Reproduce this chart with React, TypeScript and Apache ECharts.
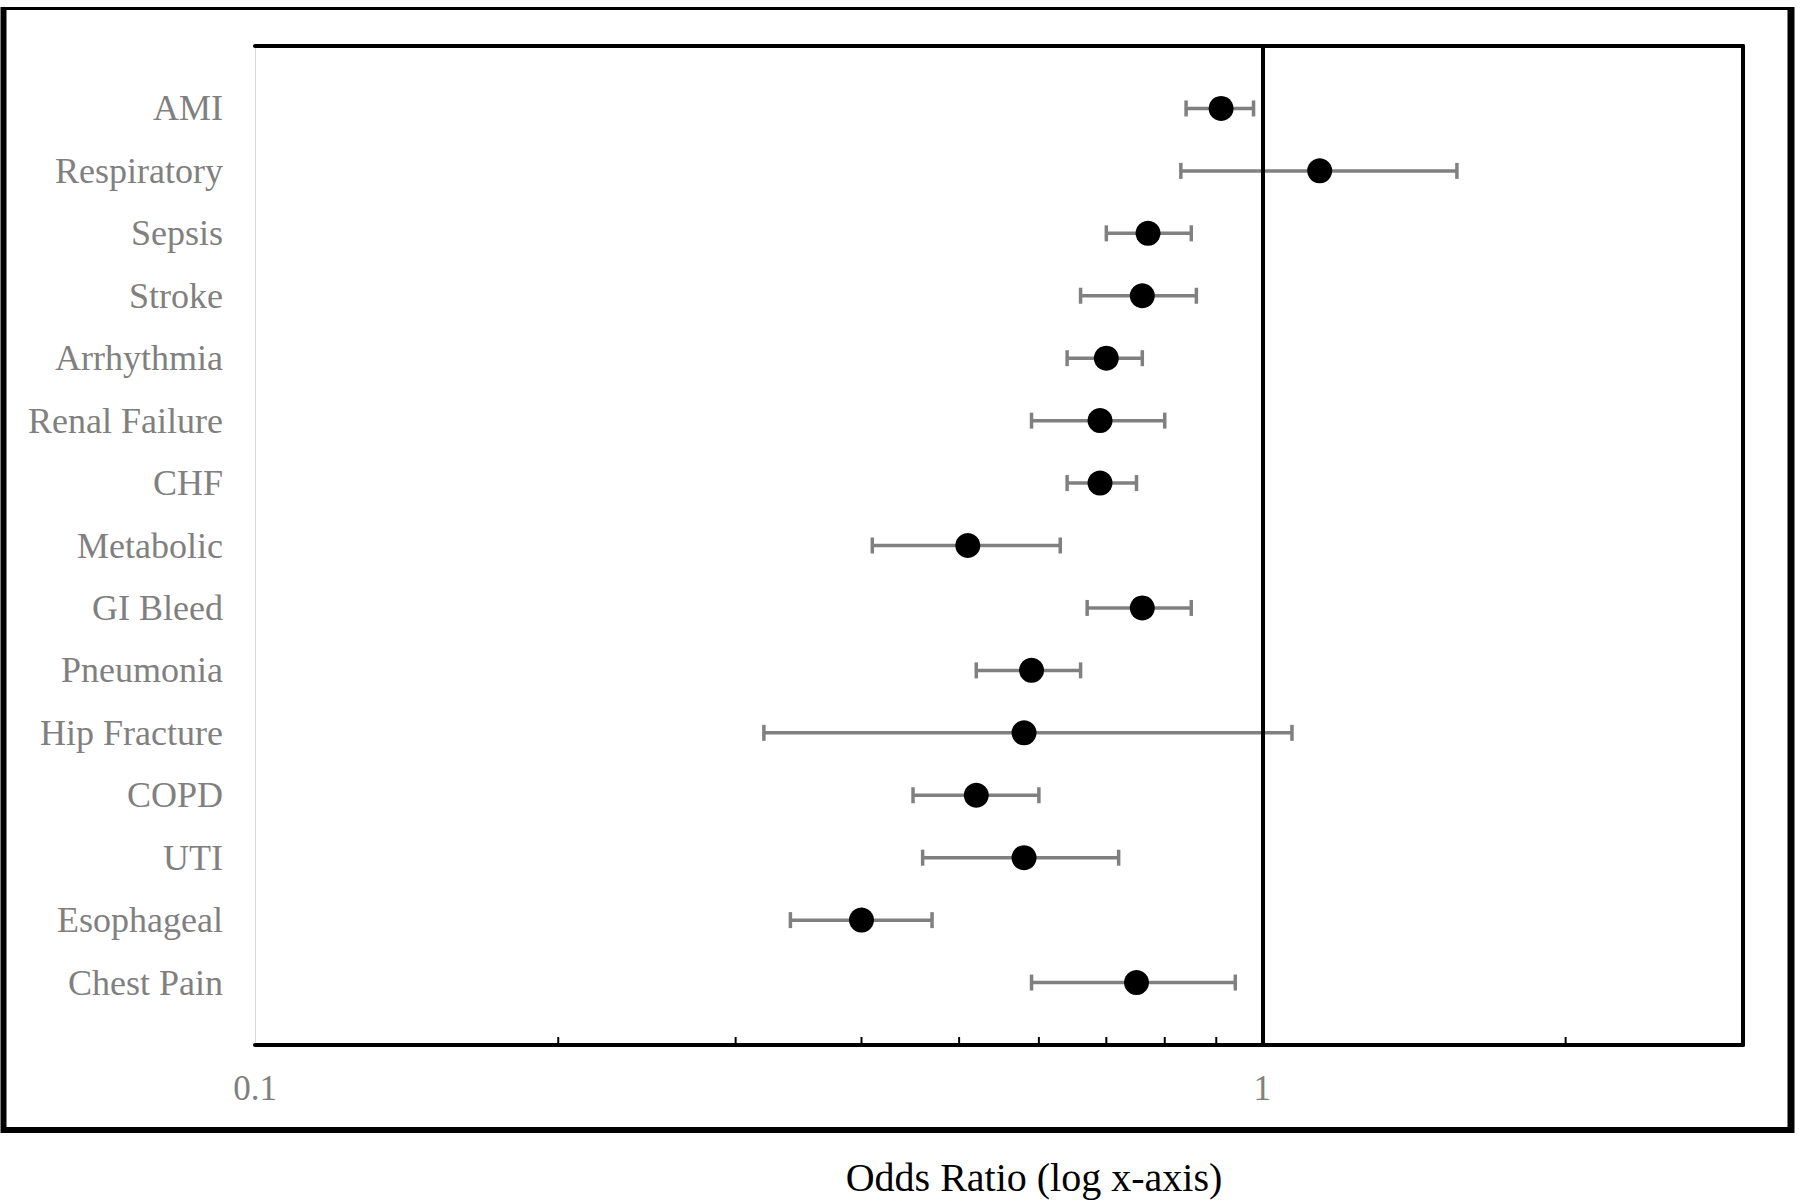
import React, { useEffect, useRef } from "react";
import * as echarts from "echarts";

const categories = [
  "AMI",
  "Respiratory",
  "Sepsis",
  "Stroke",
  "Arrhythmia",
  "Renal Failure",
  "CHF",
  "Metabolic",
  "GI Bleed",
  "Pneumonia",
  "Hip Fracture",
  "COPD",
  "UTI",
  "Esophageal",
  "Chest Pain",
];
const oddsRatio = [0.91, 1.14, 0.77, 0.76, 0.7, 0.69, 0.69, 0.51, 0.76, 0.59, 0.58, 0.52, 0.58, 0.4, 0.75];
const ciLower = [0.84, 0.83, 0.7, 0.66, 0.64, 0.59, 0.64, 0.41, 0.67, 0.52, 0.32, 0.45, 0.46, 0.34, 0.59];
const ciUpper = [0.98, 1.56, 0.85, 0.86, 0.76, 0.8, 0.75, 0.63, 0.85, 0.66, 1.07, 0.6, 0.72, 0.47, 0.94];
const xTickLabels = [0.1, 1];
const minorTicks = [0.2, 0.3, 0.4, 0.5, 0.6, 0.7, 0.8, 0.9, 2];
const referenceValue = 1;
const xMin = 0.1;
const xMax = 3;
const axisTitle = "Odds Ratio (log x-axis)";

const FONT = '"Liberation Serif", "Times New Roman", serif';
const GRAY = "#808080";

export default function App() {
  const ref = useRef<HTMLDivElement>(null);

  useEffect(() => {
    if (!ref.current) return;
    const chart = echarts.init(ref.current, undefined, { renderer: "svg" });
    const yMax = categories.length + 1;

    const option: any = {
      animation: false,
      backgroundColor: "#ffffff",
      grid: {
        left: 255,
        right: 57,
        top: 46,
        bottom: 157,
        containLabel: false,
        outerBoundsMode: "none",
      },
      xAxis: [
        {
          type: "log",
          logBase: 10,
          min: xMin,
          max: xMax,
          position: "bottom",
          axisLine: { show: true, onZero: false, lineStyle: { color: "#000", width: 4 } },
          axisTick: { show: false },
          splitLine: { show: false },
          minorTick: { show: false },
          minorSplitLine: { show: false },
          axisLabel: {
            color: GRAY,
            fontSize: 35,
            fontFamily: FONT,
            margin: 26,
            formatter: (v: number) => {
              const m = xTickLabels.find((t) => Math.abs(t - v) < 1e-6);
              return m !== undefined ? String(m) : "";
            },
          },
        },
        {
          type: "log",
          logBase: 10,
          min: xMin,
          max: xMax,
          position: "top",
          axisLine: { show: true, onZero: false, lineStyle: { color: "#000", width: 4 } },
          axisTick: { show: false },
          axisLabel: { show: false },
          splitLine: { show: false },
        },
      ],
      yAxis: [
        {
          type: "value",
          min: 0,
          max: yMax,
          interval: 1,
          inverse: true,
          position: "left",
          axisLine: { show: true, onZero: false, lineStyle: { color: "#d9d9d9", width: 1 } },
          axisTick: { show: false },
          splitLine: { show: false },
          axisLabel: {
            color: GRAY,
            fontSize: 36,
            fontFamily: FONT,
            margin: 32,
            formatter: (v: number) => categories[v - 1] ?? "",
          },
        },
        {
          type: "value",
          min: 0,
          max: yMax,
          interval: 1,
          inverse: true,
          position: "right",
          axisLine: { show: true, onZero: false, lineStyle: { color: "#000", width: 4 } },
          axisTick: { show: false },
          axisLabel: { show: false },
          splitLine: { show: false },
        },
      ],
      series: [
        {
          type: "custom",
          name: "CI",
          xAxisIndex: 0,
          yAxisIndex: 0,
          z: 2,
          data: categories.map((_, i) => [ciLower[i], ciUpper[i], i + 1]),
          encode: { x: [0, 1], y: 2 },
          renderItem: (params: any, api: any) => {
            const y = api.value(2);
            const a = api.coord([api.value(0), y]);
            const b = api.coord([api.value(1), y]);
            const cap = 8;
            const style = { stroke: "#808080", lineWidth: 3.5 };
            return {
              type: "group",
              children: [
                { type: "line", shape: { x1: a[0], y1: a[1], x2: b[0], y2: b[1] }, style },
                { type: "line", shape: { x1: a[0], y1: a[1] - cap, x2: a[0], y2: a[1] + cap }, style },
                { type: "line", shape: { x1: b[0], y1: b[1] - cap, x2: b[0], y2: b[1] + cap }, style },
              ],
            };
          },
        },
        {
          type: "scatter",
          name: "OR",
          xAxisIndex: 0,
          yAxisIndex: 0,
          z: 3,
          symbol: "circle",
          symbolSize: 25,
          itemStyle: { color: "#000", opacity: 1 },
          data: categories.map((_, i) => [oddsRatio[i], i + 1]),
          markLine: {
            silent: true,
            symbol: "none",
            label: { show: false },
            lineStyle: { color: "#000", width: 4, type: "solid", opacity: 1 },
            data: [{ xAxis: referenceValue }],
          },
        },
        {
          type: "custom",
          name: "ticks",
          xAxisIndex: 0,
          yAxisIndex: 0,
          z: 4,
          data: minorTicks.map((v) => [v, yMax]),
          encode: { x: 0, y: 1 },
          renderItem: (params: any, api: any) => {
            const p = api.coord([api.value(0), api.value(1)]);
            return {
              type: "line",
              shape: { x1: p[0], y1: p[1], x2: p[0], y2: p[1] - 8 },
              style: { stroke: "#000", lineWidth: 2 },
            };
          },
        },
      ],
      graphic: [
        {
          type: "rect",
          shape: { x: 3.5, y: 8.5, width: 1787.5, height: 1121.5 },
          style: { fill: "none", stroke: "#000", lineWidth: 3 },
          silent: true,
        },
        { type: "line", shape: { x1: 3.5, y1: 7, x2: 3.5, y2: 1133 }, style: { stroke: "#000", lineWidth: 6 }, silent: true },
        { type: "line", shape: { x1: 1791, y1: 7, x2: 1791, y2: 1133 }, style: { stroke: "#000", lineWidth: 7 }, silent: true },
        { type: "line", shape: { x1: 1, y1: 1130, x2: 1794, y2: 1130 }, style: { stroke: "#000", lineWidth: 6 }, silent: true },
        {
          type: "text",
          x: 1034,
          y: 1177,
          silent: true,
          style: {
            text: axisTitle,
            fontSize: 40,
            fontFamily: FONT,
            fill: "#000",
            align: "center",
            verticalAlign: "middle",
          },
        },
      ],
    };

    chart.setOption(option);
    return () => chart.dispose();
  }, []);

  return (
    <div
      ref={ref}
      style={{ position: "fixed", left: 0, top: 0, width: 1800, height: 1202, background: "#fff" }}
    />
  );
}
